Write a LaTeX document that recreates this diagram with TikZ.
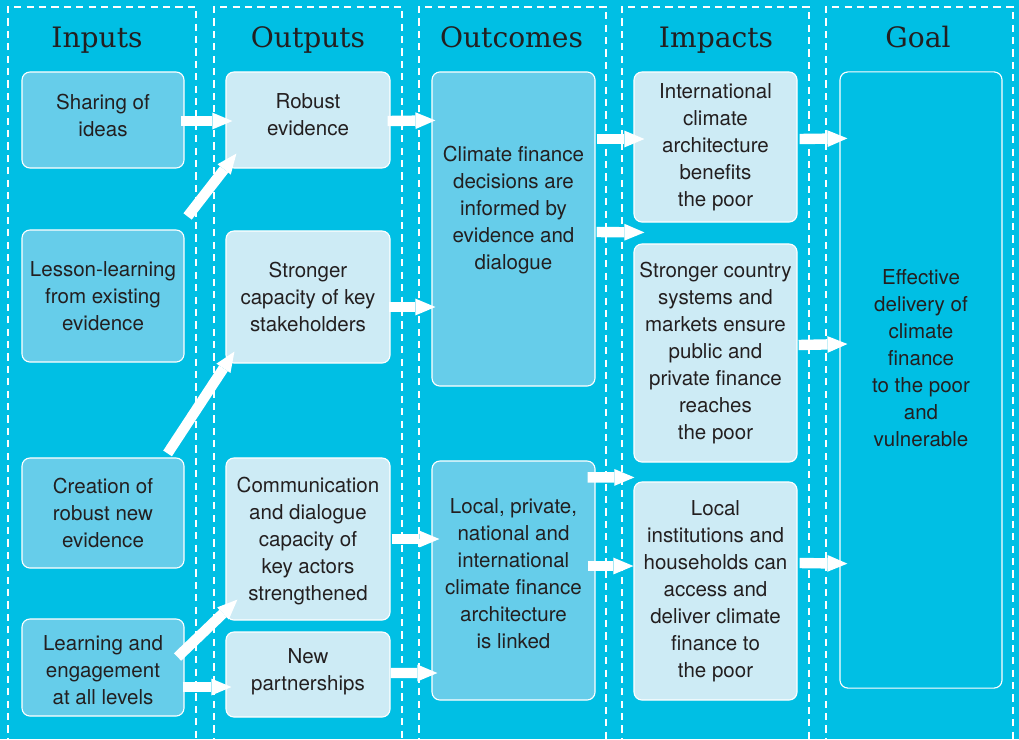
\documentclass[tikz,border=0pt]{standalone}
\usepackage{fontspec}
\setsansfont{TeX Gyre Heros}
\newfontfamily\headfont{DejaVu Serif}
\usepackage{tikz}
\usetikzlibrary{arrows.meta}
\definecolor{bgcyan}{HTML}{00BFE4}
\definecolor{darkfill}{HTML}{66CDEA}
\definecolor{lightfill}{HTML}{CDEBF5}
\definecolor{ink}{HTML}{231F20}

\begin{document}
\begin{tikzpicture}[x=0.025cm, y=-0.025cm,
    column/.style={draw=white, line width=1pt, dash pattern=on 0.18cm off 0.13cm},
    head/.style={text=ink, font=\headfont\fontsize{20}{24}\selectfont, anchor=base},
    box/.style={draw=white, line width=0.8pt, rounded corners=0.2cm, text=ink, align=center,
        font=\sffamily\fontsize{14.6}{19.2}\selectfont, inner sep=0pt},
    darkbox/.style={box, fill=darkfill},
    lightbox/.style={box, fill=lightfill},
    txt/.style={text=ink, align=center, font=\sffamily\fontsize{14.6}{19.2}\selectfont, inner sep=0pt},
    flow/.style={white, line width=0.26cm, -{Triangle[width=0.42cm, length=0.5cm, line width=0pt]}}]
    \useasboundingbox (0,0) rectangle (1019,739);
    \fill[bgcyan] (0,0) rectangle (1019,739);
    \foreach \a/\b in {8/196, 214/402, 419/606, 622/809, 826/1013}
        \draw[column] (\a,745) |- (\b,7) -- (\b,745);

    \node[head] (inputs) at (97,47) {Inputs};
    \node[head] (outputs) at (308,47) {Outputs};
    \node[head] (outcomes) at (511.5,47) {Outcomes};
    \node[head] (impacts) at (716,47) {Impacts};
    \node[head] (goalhead) at (918,47) {Goal};

    \node[darkbox, minimum width=4.05cm, minimum height=2.4cm] (sharing) at (103,120) {};
    \node[txt] (sharingtxt) at (103,115) {Sharing of\\ideas};
    \node[darkbox, minimum width=4.05cm, minimum height=3.3cm] (lesson) at (103,296) {Lesson-learning\\from existing\\evidence};
    \node[darkbox, minimum width=4.05cm, minimum height=2.75cm] (creation) at (103,513) {Creation of\\robust new\\evidence};
    \node[darkbox, minimum width=4.05cm, minimum height=2.425cm] (learning) at (103,667.5) {};
    \node[txt] (learningtxt) at (103,670.5) {Learning and\\engagement\\at all levels};

    \node[lightbox, minimum width=4.1cm, minimum height=2.4cm] (robust) at (308,120) {};
    \node[txt] (robusttxt) at (308,115) {Robust\\evidence};
    \node[lightbox, minimum width=4.1cm, minimum height=3.3cm] (capacity) at (308,297) {Stronger\\capacity of key\\stakeholders};
    \node[lightbox, minimum width=4.1cm, minimum height=4.05cm] (comm) at (308,539) {};
    \node[txt] (commtxt) at (308,541) {Communication\\and dialogue\\capacity of\\key actors\\strengthened};
    \node[lightbox, minimum width=4.1cm, minimum height=2.125cm] (partner) at (308,674.5) {};
    \node[txt] (partnertxt) at (308,671.5) {New\\partnerships};

    \node[darkbox, minimum width=4.075cm, minimum height=7.85cm] (decisions) at (513.5,229) {};
    \node[txt] (decisionstxt) at (513.5,210.5) {Climate finance\\decisions are\\informed by\\evidence and\\dialogue};
    \node[darkbox, minimum width=4.075cm, minimum height=5.975cm] (linked) at (513.5,580.5) {};
    \node[txt] (linkedtxt) at (513.5,573.5) {Local, private,\\national and\\international\\climate finance\\architecture\\is linked};

    \node[lightbox, minimum width=4.075cm, minimum height=3.75cm] (intl) at (715.5,147) {International\\climate\\architecture\\benefits\\the poor};
    \node[lightbox, minimum width=4.075cm, minimum height=5.45cm] (systems) at (715.5,353) {Stronger country\\systems and\\markets ensure\\public and\\private finance\\reaches\\the poor};
    \node[lightbox, minimum width=4.075cm, minimum height=5.45cm] (local) at (715.5,591) {Local\\institutions and\\households can\\access and\\deliver climate\\finance to\\the poor};

    \node[box, minimum width=4.05cm, minimum height=15.4cm] (goal) at (921,380) {};
    \node[txt] (goaltxt) at (921,358.5) {Effective\\delivery of\\climate\\finance\\to the poor\\and\\vulnerable};

    \draw[flow] ([shift={(-4,1)}]sharing.east) -- ([shift={(7,1)}]robust.west);
    \draw[flow] ([shift={(3,-13)}]lesson.north east) -- ([shift={(11,-15)}]robust.south west);
    \draw[flow] ([shift={(-17,-4)}]creation.north east) -- ([shift={(9,-12)}]capacity.south west);
    \draw[flow] ([shift={(-7,-10.5)}]learning.east) -- ([shift={(12,-21)}]comm.south west);
    \draw[flow] ([shift={(-2,19.5)}]learning.east) -- ([shift={(6,12.5)}]partner.west);

    \draw[flow] ([shift={(-3,1)}]robust.east) -- ([shift={(4,49)}]decisions.north west);
    \draw[flow] ([shift={(-2,10)}]capacity.east) -- ([shift={(4,78)}]decisions.west);
    \draw[flow] ([shift={(1,0)}]comm.east) -- ([shift={(8,-41.5)}]linked.west);
    \draw[flow] ([shift={(0,-1.5)}]partner.east) -- ([shift={(6,92.5)}]linked.west);

    \draw[flow] ([shift={(1,-90)}]decisions.east) -- ([shift={(11,-8)}]intl.west);
    \draw[flow] ([shift={(1,3)}]decisions.east) -- ([shift={(11,-11)}]systems.north west);
    \draw[flow] ([shift={(-8,17)}]linked.north east) -- ([shift={(1,-4)}]local.north west);
    \draw[flow] ([shift={(-8,-14.5)}]linked.east) -- ([shift={(0,-25)}]local.west);

    \draw[flow] ([shift={(2,-8)}]intl.east) -- ([shift={(8,67)}]goal.north west);
    \draw[flow] ([shift={(1,-8)}]systems.east) -- ([shift={(8,-36)}]goal.west);
    \draw[flow] ([shift={(2,-28)}]local.east) -- ([shift={(8,-125)}]goal.south west);
\end{tikzpicture}
\end{document}
